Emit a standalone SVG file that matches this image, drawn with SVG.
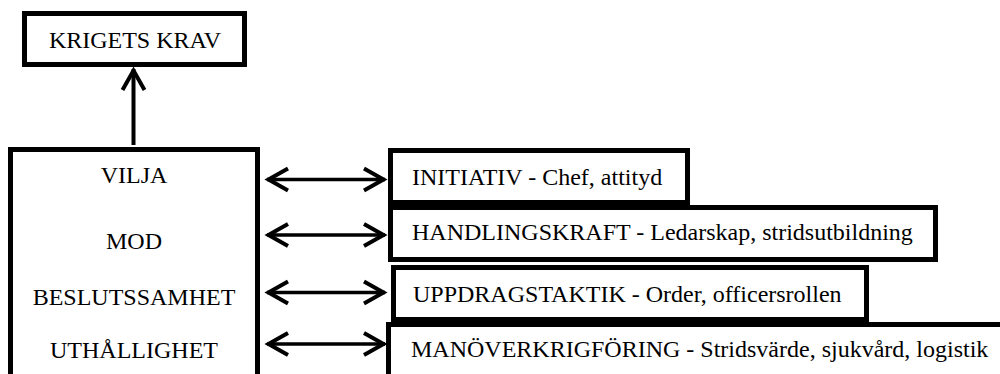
<svg xmlns="http://www.w3.org/2000/svg" width="1000" height="374" viewBox="0 0 1000 374">
<style>
.box{fill:#fff;stroke:#000;stroke-width:5}
.t{font-family:'Liberation Serif','Times New Roman',Times,serif;font-size:24px;fill:#000}
.c{text-anchor:middle}
.conn{stroke:#000;fill:none}
</style>
<defs>
<marker id="ah" markerUnits="userSpaceOnUse" viewBox="-25 -15 30 30" refX="0" refY="0" markerWidth="30" markerHeight="30" orient="auto-start-reverse">
<path d="M-21,-11 L-1.5,0 L-21,11" fill="none" stroke="#000" stroke-width="4"/>
</marker>
</defs>
<rect width="1000" height="374" fill="#fff"/>
<g id="krigets-krav">
<rect class="box" x="24.5" y="13.5" width="220" height="51"/>
<text class="t c" x="135" y="48" font-family="Liberation Serif, serif">KRIGETS KRAV</text>
</g>
<g id="egenskaper">
<rect class="box" x="10.5" y="149.5" width="247" height="240"/>
<text class="t c" x="134" y="183" font-family="Liberation Serif, serif">VILJA</text>
<text class="t c" x="134" y="249" font-family="Liberation Serif, serif">MOD</text>
<text class="t c" x="134" y="305" font-family="Liberation Serif, serif">BESLUTSSAMHET</text>
<text class="t c" x="134" y="358" font-family="Liberation Serif, serif">UTHÅLLIGHET</text>
</g>
<g id="initiativ">
<rect class="box" x="390.5" y="150.5" width="297" height="52"/>
<text class="t" x="412" y="185" font-family="Liberation Serif, serif">INITIATIV - Chef, attityd</text>
</g>
<g id="handlingskraft">
<rect class="box" x="390.5" y="207.5" width="545" height="52"/>
<text class="t" x="412" y="240" font-family="Liberation Serif, serif">HANDLINGSKRAFT - Ledarskap, stridsutbildning</text>
</g>
<g id="uppdragstaktik">
<rect class="box" x="393.5" y="267.5" width="473" height="52"/>
<text class="t" x="413" y="302" font-family="Liberation Serif, serif">UPPDRAGSTAKTIK - Order, officersrollen</text>
</g>
<g id="manoverkrigforing">
<rect class="box" x="388.5" y="324.5" width="620" height="60"/>
<text class="t" x="411" y="357" font-family="Liberation Serif, serif">MANÖVERKRIGFÖRING - Stridsvärde, sjukvård, logistik</text>
</g>
<g id="connectors">
<line class="conn" x1="133.5" y1="145" x2="133.5" y2="69" stroke-width="4" marker-end="url(#ah)"/>
<line class="conn" x1="267" y1="179.5" x2="385" y2="179.5" stroke-width="3.5" marker-start="url(#ah)" marker-end="url(#ah)"/>
<line class="conn" x1="267" y1="235" x2="385" y2="235" stroke-width="3.5" marker-start="url(#ah)" marker-end="url(#ah)"/>
<line class="conn" x1="267" y1="292.5" x2="385" y2="292.5" stroke-width="3.5" marker-start="url(#ah)" marker-end="url(#ah)"/>
<line class="conn" x1="267" y1="344" x2="385" y2="344" stroke-width="3.5" marker-start="url(#ah)" marker-end="url(#ah)"/>
</g>
</svg>
